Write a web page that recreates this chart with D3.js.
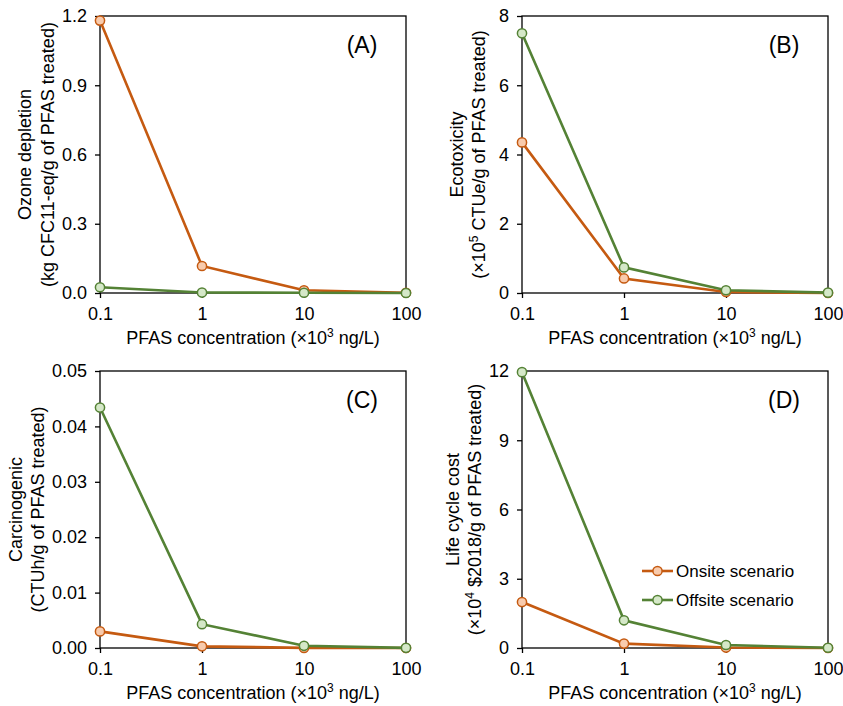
<!DOCTYPE html>
<html>
<head>
<meta charset="utf-8">
<script src="https://cdn.jsdelivr.net/npm/d3@7"></script>
<style>
  body { margin: 0; background: #fff; }
  svg text { font-family: "Liberation Sans", Arial, sans-serif; fill: #000; }
</style>
</head>
<body>
<div id="chart"></div>
<script>
// data
var concentrations = [0.1, 1, 10, 100];
var xTickLabels = ["0.1", "1", "10", "100"];

var ozoneOnsite = [1.18, 0.117, 0.012, 0.001];
var ozoneOffsite = [0.025, 0.002, 0.001, 0.0];
var ozoneTicks = [0, 0.3, 0.6, 0.9, 1.2];

var ecoOnsite = [4.35, 0.42, 0.03, 0.0];
var ecoOffsite = [7.5, 0.74, 0.08, 0.01];
var ecoTicks = [0, 2, 4, 6, 8];

var carcOnsite = [0.003, 0.0003, 0.00002, 0.0];
var carcOffsite = [0.0434, 0.0043, 0.0004, 0.00003];
var carcTicks = [0, 0.01, 0.02, 0.03, 0.04, 0.05];

var costOnsite = [1.99, 0.19, 0.02, 0.0];
var costOffsite = [11.95, 1.2, 0.13, 0.01];
var costTicks = [0, 3, 6, 9, 12];

var seriesNames = ["Onsite scenario", "Offsite scenario"];

var svgWidth = 843;
var svgHeight = 706;
var plotW = 306;
var plotH = 277;

var lineColors = ["#C55A11", "#548235"];
var markerFills = ["#F8CBAD", "#D5E8C8"];

var svg = d3.select("#chart")
  .append("svg")
  .attr("width", svgWidth)
  .attr("height", svgHeight);

// one entry per panel; y title lines with offsets from the plot's left edge
var panels = [
  { x: 100, y: 16, label: "(A)", series: [ozoneOnsite, ozoneOffsite], ticks: ozoneTicks, fmt: d3.format(".1f"),
    title1: "Ozone depletion", title2: ["(kg CFC11-eq/g of PFAS treated)"], off: [75, 52] },
  { x: 522, y: 16, label: "(B)", series: [ecoOnsite, ecoOffsite], ticks: ecoTicks, fmt: d3.format("d"),
    title1: "Ecotoxicity", title2: ["(\u00d710", "5", " CTUe/g of PFAS treated)"], off: [65, 43] },
  { x: 100, y: 371, label: "(C)", series: [carcOnsite, carcOffsite], ticks: carcTicks, fmt: d3.format(".2f"),
    title1: "Carcinogenic", title2: ["(CTUh/g of PFAS treated)"], off: [84, 62] },
  { x: 522, y: 371, label: "(D)", series: [costOnsite, costOffsite], ticks: costTicks, fmt: d3.format("d"),
    title1: "Life cycle cost", title2: ["(\u00d710", "4", " $2018/g of PFAS treated)"], off: [69, 47] }
];

// helper for text with a superscript in the middle
function addParts(textSel, parts) {
  parts.forEach(function (p, i) {
    var t = textSel.append("tspan").text(p);
    if (i === 1) {
      t.attr("font-size", 12).attr("dy", -7);
    } else if (i === 2) {
      t.attr("dy", 7);
    }
  });
}

panels.forEach(function (p, pi) {
  var g = svg.append("g").attr("transform", `translate(${p.x}, ${p.y})`);

  var xScale = d3.scaleLog().domain([0.1, 100]).range([0, plotW]);
  var yScale = d3.scaleLinear()
    .domain([0, p.ticks[p.ticks.length - 1]])
    .range([plotH, 0]);

  var bottomAxis = d3.axisBottom(xScale)
    .tickValues(concentrations)
    .tickFormat(function (d, i) { return xTickLabels[i]; })
    .tickSizeInner(5).tickSizeOuter(0).tickPadding(9);
  var leftAxis = d3.axisLeft(yScale)
    .tickValues(p.ticks)
    .tickFormat(p.fmt)
    .tickSizeInner(5).tickSizeOuter(0).tickPadding(8);

  var xg = g.append("g").attr("transform", `translate(0, ${plotH})`).call(bottomAxis);
  var yg = g.append("g").call(leftAxis);
  [xg, yg].forEach(function (a) {
    a.select(".domain").remove();
    a.selectAll("line").attr("stroke", "#000").attr("stroke-width", 1.3);
    a.selectAll("text").attr("font-size", 18).attr("font-family", "Liberation Sans, Arial, sans-serif");
  });

  g.append("rect")
    .attr("width", plotW)
    .attr("height", plotH)
    .attr("fill", "none")
    .attr("stroke", "#000")
    .attr("stroke-width", 1.3);

  // lines + markers
  p.series.forEach(function (vals, si) {
    var pts = concentrations.map(function (c, i) { return [c, vals[i]]; });
    var line = d3.line()
      .x(d => xScale(d[0]))
      .y(d => yScale(d[1]));
    g.append("path")
      .datum(pts)
      .attr("d", line)
      .attr("fill", "none")
      .attr("stroke", lineColors[si])
      .attr("stroke-width", 2.6);
    g.selectAll(null)
      .data(pts)
      .enter()
      .append("circle")
      .attr("cx", d => xScale(d[0]))
      .attr("cy", d => yScale(d[1]))
      .attr("r", 4.6)
      .attr("fill", markerFills[si])
      .attr("stroke", lineColors[si])
      .attr("stroke-width", 1.5);
  });

  // panel label
  g.append("text")
    .attr("x", plotW - 44)
    .attr("y", 29)
    .attr("text-anchor", "middle")
    .attr("dominant-baseline", "central")
    .attr("font-size", 23)
    .text(p.label);

  // x title
  var xt = g.append("text")
    .attr("x", plotW / 2)
    .attr("y", plotH + 51)
    .attr("text-anchor", "middle")
    .attr("font-size", 18);
  addParts(xt, ["PFAS concentration (\u00d710", "3", " ng/L)"]);

  // y title, two lines
  g.append("text")
    .attr("transform", `translate(${-p.off[0]}, ${plotH / 2}) rotate(-90)`)
    .attr("text-anchor", "middle")
    .attr("dominant-baseline", "central")
    .attr("font-size", 18)
    .text(p.title1);
  var yt2 = g.append("text")
    .attr("transform", `translate(${-p.off[1] + 6}, ${plotH / 2}) rotate(-90)`)
    .attr("text-anchor", "middle")
    .attr("font-size", 18);
  addParts(yt2, p.title2);

  // legend only in panel D
  if (pi === 3) {
    seriesNames.forEach(function (name, si) {
      var ly = 200 + si * 29;
      var lx = 120;
      g.append("line")
        .attr("x1", lx).attr("x2", lx + 31)
        .attr("y1", ly).attr("y2", ly)
        .attr("stroke", lineColors[si])
        .attr("stroke-width", 2.6);
      g.append("circle")
        .attr("cx", lx + 15.5).attr("cy", ly)
        .attr("r", 4.6)
        .attr("fill", markerFills[si])
        .attr("stroke", lineColors[si])
        .attr("stroke-width", 1.5);
      g.append("text")
        .attr("x", lx + 34)
        .attr("y", ly)
        .attr("dominant-baseline", "central")
        .attr("font-size", 17)
        .text(name);
    });
  }
});
</script>
</body>
</html>
